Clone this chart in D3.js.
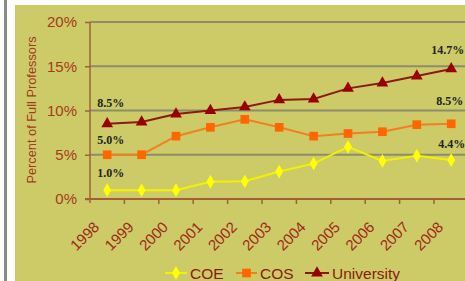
<!DOCTYPE html>
<html>
<head>
<meta charset="UTF-8">
<style>
  body { margin: 0; background: #fff; overflow: hidden; }
  svg { display: block; }
</style>
</head>
<body>
<svg id="chart"></svg>
<script src="https://cdn.jsdelivr.net/npm/d3@7"></script>
<script>
const years = ["1998","1999","2000","2001","2002","2003","2004","2005","2006","2007","2008"];
const coe = [1.0, 1.0, 1.0, 1.95, 2.0, 3.1, 4.0, 5.9, 4.3, 4.9, 4.4];
const cos = [5.0, 5.0, 7.1, 8.1, 9.0, 8.1, 7.1, 7.4, 7.6, 8.4, 8.5];
const univ = [8.5, 8.7, 9.6, 10.0, 10.4, 11.2, 11.3, 12.5, 13.1, 13.9, 14.7];
const yTicks = [0, 5, 10, 15, 20];

const W = 465, H = 281;
const svg = d3.select("#chart").attr("width", W).attr("height", H);

// frame: grey bar + olive panel
svg.append("rect").attr("x", 4).attr("y", 0).attr("width", 3).attr("height", H).attr("fill", "#8a8a8a");
svg.append("rect").attr("x", 15).attr("y", 5).attr("width", W - 15).attr("height", H - 5).attr("fill", "#cccb68");

const x = d3.scaleBand().domain(years).range([90, 90 + 11 * 34.4]);
const y = d3.scaleLinear().domain([0, 20]).range([199, 22]);
const cx = d => x(d) + x.bandwidth() / 2;

// gridlines
svg.append("g").selectAll("line").data(yTicks.slice(1)).join("line")
  .attr("x1", 90).attr("x2", W).attr("y1", d => y(d)).attr("y2", d => y(d))
  .attr("stroke", "#8e8c6c").attr("stroke-width", 2);

// y axis
const yAxis = svg.append("g").attr("transform", "translate(90,0)")
  .call(d3.axisLeft(y).tickValues(yTicks).tickFormat(d => d + "%").tickSize(5).tickPadding(8));
yAxis.select(".domain").remove();
yAxis.selectAll(".tick line").attr("stroke", "#a0603a").attr("stroke-width", 1.5);
yAxis.selectAll("text").attr("fill", "#a63a1c").attr("font-family", "Liberation Sans, Arial, sans-serif")
  .attr("font-size", 15);
svg.append("line").attr("x1", 90).attr("x2", 90).attr("y1", 22).attr("y2", 203)
  .attr("stroke", "#a0603a").attr("stroke-width", 1.5);

// x axis
svg.append("line").attr("x1", 85).attr("x2", W).attr("y1", 199).attr("y2", 199)
  .attr("stroke", "#a0603a").attr("stroke-width", 2);
svg.append("g").selectAll("line").data(years.slice(1)).join("line")
  .attr("x1", d => x(d)).attr("x2", d => x(d)).attr("y1", 199).attr("y2", 204)
  .attr("stroke", "#a0603a").attr("stroke-width", 1.5);
svg.append("g").selectAll("text").data(years).join("text")
  .attr("transform", d => `translate(${cx(d) - 7},${228}) rotate(-45)`)
  .attr("text-anchor", "end")
  .attr("fill", "#a0281c").attr("font-family", "Liberation Sans, Arial, sans-serif")
  .attr("font-size", 15).text(d => d);

// axis title
svg.append("text").attr("transform", "translate(36,110) rotate(-90)")
  .attr("text-anchor", "middle").attr("fill", "#a63a1c")
  .attr("font-family", "Liberation Sans, Arial, sans-serif").attr("font-size", 12.8)
  .text("Percent of Full Professors");

const series = [
  { name: "COE", values: coe, line: "#f2f200", mark: "#ffff00", shape: d3.symbolDiamond, size: 55, sw: 2 },
  { name: "COS", values: cos, line: "#f08020", mark: "#ff6600", shape: d3.symbolSquare, size: 75, sw: 2 },
  { name: "University", values: univ, line: "#8b1a10", mark: "#990000", shape: d3.symbolTriangle, size: 60, sw: 2 }
];

const line = d3.line().x((d, i) => cx(years[i])).y(d => y(d));
series.forEach(s => {
  svg.append("path").attr("d", line(s.values)).attr("fill", "none")
    .attr("stroke", s.line).attr("stroke-width", s.sw);
  svg.append("g").selectAll("path").data(s.values).join("path")
    .attr("transform", (d, i) => `translate(${cx(years[i])},${y(d)})`)
    .attr("d", d3.symbol().type(s.shape).size(s.size))
    .attr("fill", s.mark);
});

// value labels
const labels = [
  { v: univ[0], t: "8.5%", i: 0, dx: -10, dy: -17 },
  { v: cos[0], t: "5.0%", i: 0, dx: -10, dy: -11 },
  { v: coe[0], t: "1.0%", i: 0, dx: -10, dy: -13 },
  { v: univ[10], t: "14.7%", i: 10, dx: -20, dy: -15 },
  { v: cos[10], t: "8.5%", i: 10, dx: -15, dy: -19 },
  { v: coe[10], t: "4.4%", i: 10, dx: -13, dy: -12 }
];
svg.append("g").selectAll("text").data(labels).join("text")
  .attr("x", d => cx(years[d.i]) + d.dx).attr("y", d => y(d.v) + d.dy)
  .attr("font-family", "Liberation Serif, Times New Roman, serif").attr("font-weight", "bold")
  .attr("font-size", 12).attr("fill", "#222").text(d => d.t);

// legend
const legend = svg.append("g");
const legX = [165, 236, 305];
const legW = [22, 21, 24];
series.forEach((s, k) => {
  const g = legend.append("g").attr("transform", `translate(${legX[k]},273)`);
  g.append("line").attr("x1", 0).attr("x2", legW[k]).attr("stroke", s.line).attr("stroke-width", 2);
  g.append("path").attr("transform", `translate(${legW[k] / 2},0)`)
    .attr("d", d3.symbol().type(s.shape).size(s.size)).attr("fill", s.mark);
  g.append("text").attr("x", legW[k] + 3).attr("y", 5.5)
    .attr("fill", "#8b1a10").attr("font-family", "Liberation Sans, Arial, sans-serif")
    .attr("font-size", 15.5).text(s.name);
});
</script>
</body>
</html>
